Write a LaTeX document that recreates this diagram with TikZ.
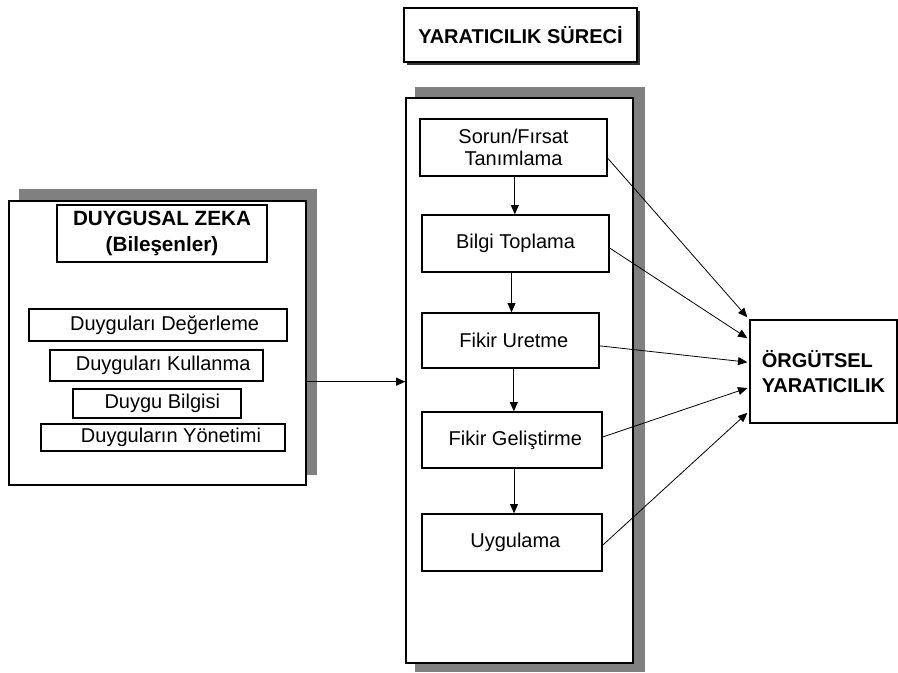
\documentclass[tikz,border=0pt]{standalone}
\usepackage{fontspec}
\setmainfont{Liberation Sans}
\usetikzlibrary{arrows.meta}
\definecolor{shadegray}{RGB}{128,128,128}

\tikzset{every picture/.style={line width=0.75pt}}
\tikzset{
  box/.style={draw, line width=1pt, fill=white, inner sep=0pt, align=center, font=\fontsize{15}{16.5}\selectfont},
  headbox/.style={box, font=\fontsize{15.5}{20}\selectfont\bfseries},
  nudge/.style={execute at begin node={\hspace*{#1}}},
  flow/.style={-{Triangle[length=7pt,width=6pt]}, line width=0.75pt},
  link/.style={-{Triangle[length=7pt,width=6pt]}, line width=0.6pt}
}

\begin{document}
\begin{tikzpicture}[x=0.75pt,y=0.75pt,yscale=-1,xscale=1]
\useasboundingbox (0,0) rectangle (898,672);

%Shadows
\fill [shadegray] (19,189) rectangle (317,475) ;
\fill [shadegray] (415,87) rectangle (645,672) ;
\fill [black!80] (407,11) rectangle (640,65) ;

%Title
\node [headbox, minimum width=174.75pt, minimum height=40.5pt, font=\fontsize{15}{20}\selectfont\bfseries] (surec) at (520.5,35) {YARATICILIK SÜRECİ};

%Outer boxes
\node [box, minimum width=222.75pt, minimum height=213pt] (zeka) at (157.5,343) {};
\node [box, minimum width=170.25pt, minimum height=423.75pt] (yaratici) at (519.5,380.5) {};

% Left box contents
\node [headbox, minimum width=157.5pt, minimum height=42.75pt] (bilesen) at (162,233.5) {DUYGUSAL ZEKA\\(Bileşenler)};
\node [box, nudge=10pt, minimum width=193.5pt, minimum height=24pt] (deger) at (158,325) {Duyguları Değerleme};
\node [box, nudge=10pt, minimum width=159.75pt, minimum height=23.25pt] (kullan) at (156.5,365.5) {Duyguları Kullanma};
\node [box, nudge=8pt, minimum width=126pt, minimum height=21.75pt] (bilgisi) at (157,403.5) {Duygu Bilgisi};
\node [box, nudge=12pt, minimum width=183pt, minimum height=20.25pt] (yonetim) at (163,437.5) {Duyguların Yönetimi};

% Process steps
\node [box, minimum width=140.25pt, minimum height=42.75pt] (sorun) at (513.5,147.5) {Sorun/Fırsat\\Tanımlama};
\node [box, minimum width=140.25pt, minimum height=42.75pt] (toplama) at (515.5,243.5) {Bilgi Toplama};
\node [box, nudge=5pt, minimum width=132.75pt, minimum height=41.25pt] (uretme) at (510.5,340.5) {Fikir Uretme};
\node [box, nudge=5pt, minimum width=135pt, minimum height=42pt] (gelis) at (512,440) {Fikir Geliştirme};
\node [box, nudge=5pt, minimum width=135pt, minimum height=42.75pt] (uygula) at (512,542.5) {Uygulama};

% Result
\node [headbox, align=left, minimum width=110.25pt, minimum height=77.25pt, font=\fontsize{15}{19}\selectfont\bfseries] (orgut) at (823.5,371.5) {ÖRGÜTSEL\\YARATICILIK};

%Straight Lines
\draw [flow] ([yshift=29pt]zeka.east) -- ([yshift=29pt]zeka.east -| yaratici.west) ;
\draw [flow] ([xshift=1pt]sorun.south) -- ([xshift=1pt]sorun.south |- toplama.north) ;
\draw [flow] ([xshift=-3pt]toplama.south) -- ([xshift=-3pt]toplama.south |- uretme.north) ;
\draw [flow] ([xshift=2.5pt]uretme.south) -- ([xshift=2.5pt]uretme.south |- gelis.north) ;
\draw [flow] ([xshift=1.5pt]gelis.south) -- ([xshift=1.5pt]gelis.south |- uygula.north) ;

%Lines to result
\draw [link] ([yshift=8pt]sorun.east) -- ([xshift=-1.5pt,yshift=-1.5pt]orgut.north west) ;
\draw [link] ([yshift=3.4pt]toplama.east) -- ([xshift=-1.5pt,yshift=-25pt]orgut.west) ;
\draw [link] ([yshift=4pt]uretme.east) -- ([xshift=-1.5pt,yshift=-7pt]orgut.west) ;
\draw [link] ([yshift=-2.25pt]gelis.east) -- ([xshift=-1.5pt,yshift=12.4pt]orgut.west) ;
\draw [link] ([yshift=2pt]uygula.east) -- ([xshift=-1.5pt,yshift=31pt]orgut.west) ;

\end{tikzpicture}
\end{document}
